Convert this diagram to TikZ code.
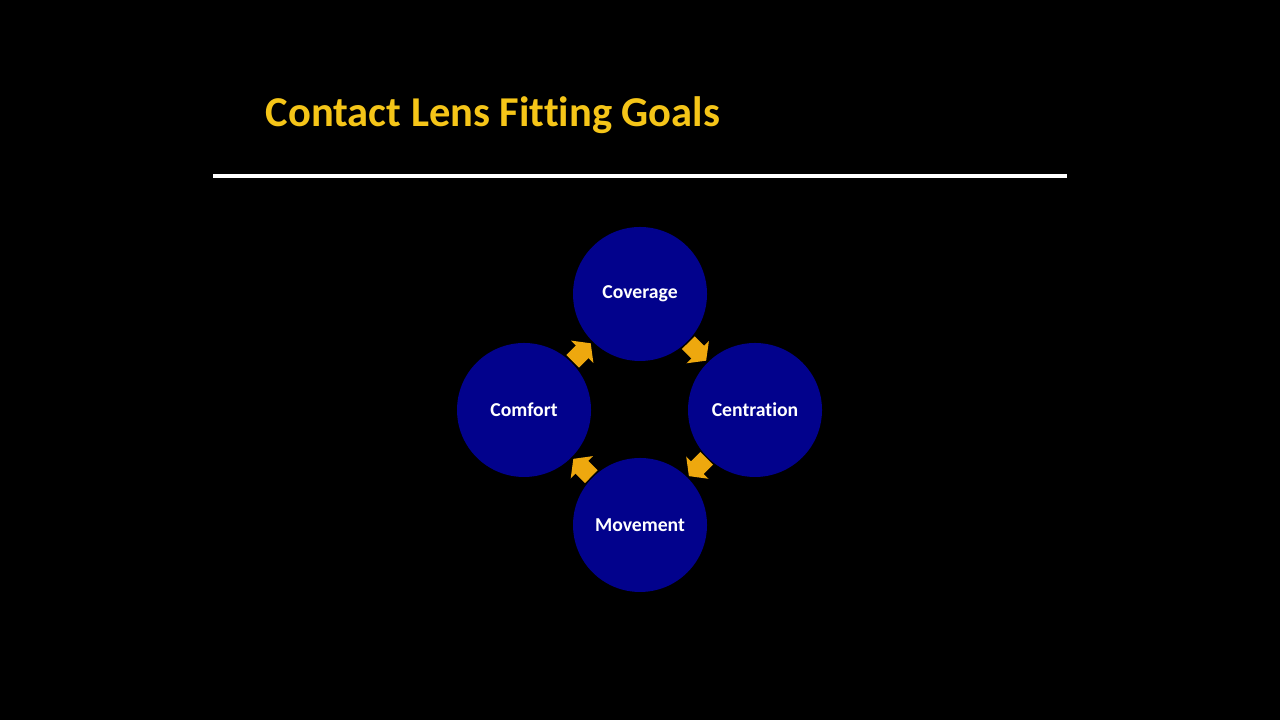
\documentclass[tikz,border=0pt]{standalone}
\usepackage{fontspec}
\setmainfont{Carlito}[Ligatures=NoCommon]
\usepackage{xcolor}
\usetikzlibrary{positioning,arrows.meta,calc}

\definecolor{titlegold}{RGB}{245,197,24}
\definecolor{goalblue}{RGB}{2,2,140}
\definecolor{arrowgold}{RGB}{238,168,14}

\begin{document}
\begin{tikzpicture}[
    goal/.style={circle, fill=goalblue, minimum size=1.34cm, inner sep=0pt, align=center, text=white, font=\fontsize{5.6}{6.5}\selectfont\bfseries},
    cyclearrow/.style={draw=arrowgold, line width=0.18cm, -{Triangle[width=0.31cm, length=0.12cm, fill=arrowgold]}},
    headline/.style={font=\fontsize{12.1}{14}\selectfont\bfseries, text=titlegold, inner sep=0pt, anchor=base west},
]

% --- Background ---
\fill[black] (0,0) rectangle (12.8,7.2);

% --- Title ---
\node[headline] (title) at (2.65,5.93) {Contact Lens Fitting Goals};
\coordinate (ruleL) at (2.13,5.44);
\coordinate (ruleR) at (10.67,5.44);
\draw[white, line width=0.04cm] (ruleL) -- (ruleR);

% --- Cycle ---
\node[goal] (coverage) at (6.40,4.26) {Coverage};
\node[goal, on grid, below right=1.16cm and 1.15cm of coverage] (centration) {Centration};
\node[goal, on grid, below left=1.16cm and 1.16cm of coverage] (comfort) {Comfort};
\node[goal, on grid, below=2.31cm of coverage] (movement) {Movement};

% Arrows between goals (clockwise)
\draw[cyclearrow] ($(comfort)!0.42!(coverage)$) -- ($(comfort)!0.575!(coverage)$);
\draw[cyclearrow] ($(coverage)!0.42!(centration)$) -- ($(coverage)!0.575!(centration)$);
\draw[cyclearrow] ($(centration)!0.42!(movement)$) -- ($(centration)!0.575!(movement)$);
\draw[cyclearrow] ($(movement)!0.42!(comfort)$) -- ($(movement)!0.575!(comfort)$);

\end{tikzpicture}
\end{document}
